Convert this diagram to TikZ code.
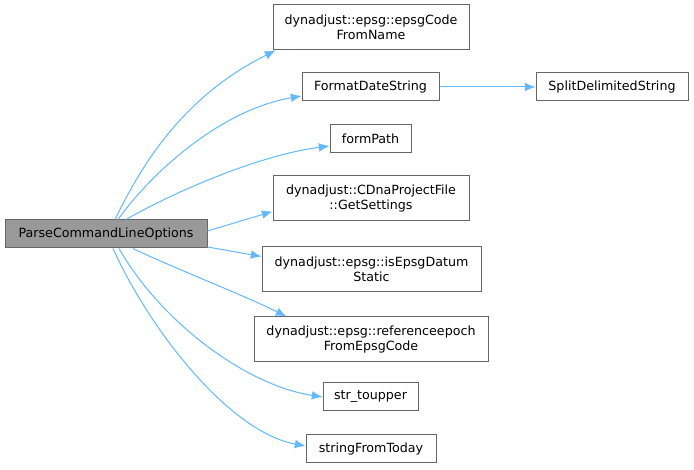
\documentclass[tikz,border=0pt]{standalone}
\usepackage{fontspec}
\setmainfont{DejaVu Sans}
\usetikzlibrary{arrows.meta,calc}
\definecolor{edgeblue}{HTML}{63B8FF}
\definecolor{boxline}{HTML}{666666}
\definecolor{rootfill}{HTML}{999999}
\begin{document}
\begin{tikzpicture}[x=0.75pt,y=-0.75pt,
  box/.style={draw=boxline,line width=0.75pt,fill=white,inner sep=0pt,align=center,
    font=\fontsize{9.5pt}{11.25pt}\selectfont,text=black},
  one/.style={minimum height=21pt},
  two/.style={minimum height=33.75pt},
  edge/.style={draw=edgeblue,line width=0.75pt,-{Latex[length=8pt,width=6.5pt]}}]
\useasboundingbox[fill=white] (0,0) rectangle (694,470);
\node[box,one,fill=rootfill,minimum width=151.5pt] (p) at (106,234) {ParseCommandLineOptions};
\node[box,two,minimum width=147pt] (a) at (371,27.5) {dynadjust::epsg::epsgCode\\FromName};
\node[box,one,minimum width=102.75pt] (b) at (370.5,87) {FormatDateString};
\node[box,one,minimum width=114pt] (c) at (612,87) {SplitDelimitedString};
\node[box,one,minimum width=60.75pt] (d) at (370.5,139) {formPath};
\node[box,two,minimum width=147pt] (e) at (371,198.5) {dynadjust::CDnaProjectFile\\::GetSettings};
\node[box,two,minimum width=164.25pt] (f) at (371.5,269.5) {dynadjust::epsg::isEpsgDatum\\Static};
\node[box,two,minimum width=175.5pt] (g) at (371,339.5) {dynadjust::epsg::referenceepoch\\FromEpsgCode};
\node[box,one,minimum width=71.25pt] (h) at (370.5,397) {str\_toupper};
\node[box,one,minimum width=97.5pt] (i) at (371,449) {stringFromToday};
\draw[edge] ($(p.north)+(9,0)$) .. controls +(20,-40) and +(-101,50) .. ($(a.south west)+(3,0)$);
\draw[edge] ($(p.north)+(12,0)$) .. controls +(32,-45) and +(-82,14) .. ($(b.west)+(0,9)$);
\draw[edge] ($(p.north)+(20,0)$) .. controls +(49,-28) and +(-70,9) .. ($(d.west)+(0,7)$);
\draw[edge] ($(p.east)+(0,-3)$) -- ($(e.west)+(0,13)$);
\draw[edge] ($(p.east)+(0,13)$) -- ($(f.west)+(0,-13)$);
\draw[edge] ($(p.south)+(27,0)$) .. controls +(37,18) and +(-42,-21) .. ($(g.north west)+(33,0)$);
\draw[edge] ($(p.south)+(13,0)$) .. controls +(41,72) and +(-78,-12) .. (h.west);
\draw[edge] ($(p.south)+(7,0)$) .. controls +(37,82) and +(-76,-14) .. ($(i.west)+(0,-3)$);
\draw[edge] (b.east) -- (c.west);
\end{tikzpicture}
\end{document}
